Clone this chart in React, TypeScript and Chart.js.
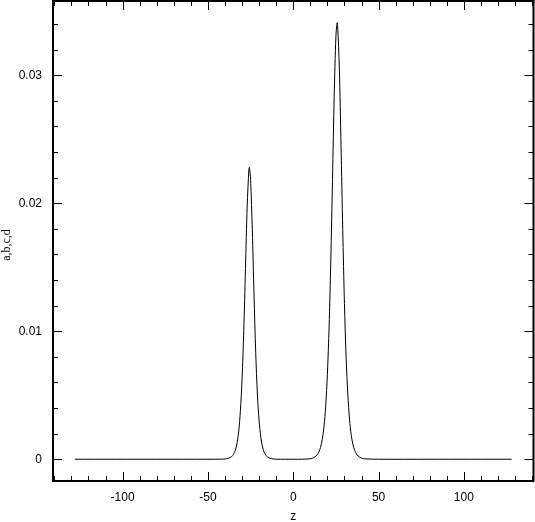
import React, { useEffect, useRef } from "react";
import { Chart, registerables } from "chart.js";

Chart.register(...registerables);

const zValues = [
  -128, -80, -50, -42, -40, -38, -36, -35, -34, -33, -32, -31, -30, -29, -28, -27, -26, -25.7,
  -25, -24, -23, -22, -21, -20, -19, -18, -17, -16, -15, -13, -10, -5, 0, 5, 10, 12, 14, 15,
  16, 17, 18, 19, 20, 21, 22, 23, 24, 25, 25.7, 26, 27, 28, 29, 30, 31, 32, 33, 34, 35, 36,
  37, 38, 40, 42, 50, 80, 128,
];
const abcdValues = [
  0, 0, 0, 0.000005, 0.00002, 0.00007, 0.000213, 0.000384, 0.000682, 0.00121, 0.00213,
  0.00374, 0.00625, 0.01004, 0.0149, 0.01977, 0.02262, 0.0228, 0.02186, 0.01793, 0.01285,
  0.00835, 0.00503, 0.00299, 0.00171, 0.00096, 0.00054, 0.0003, 0.00017, 0.00005, 0.000005, 0,
  0, 0, 0.00004, 0.00012, 0.00034, 0.00056, 0.00093, 0.00154, 0.00253, 0.00412, 0.00662,
  0.01032, 0.01546, 0.02186, 0.02836, 0.03303, 0.0341, 0.0339, 0.03058, 0.02453, 0.01793,
  0.01217, 0.00788, 0.00504, 0.00308, 0.00188, 0.00114, 0.00069, 0.00042, 0.00025, 0.00009,
  0.00003, 0.000001, 0, 0,
];
const xTickValues = [-100, -50, 0, 50, 100];
const xTickLabels = ["-100", "-50", "0", "50", "100"];
const yTickValues = [0, 0.01, 0.02, 0.03];
const yTickLabels = ["0", "0.01", "0.02", "0.03"];
const xTitle = "z";
const yTitle = "a,b,c,d";

const X_MIN = -140.8;
const X_MAX = 140.8;
const Y_MIN = -0.0017;
const Y_MAX = 0.0358;

const framePlugin = {
  id: "framePlugin",
  afterDraw(chart: any) {
    const { ctx, chartArea } = chart;
    const { left, right, top, bottom } = chartArea;
    const xs = chart.scales.x;
    const ys = chart.scales.y;
    ctx.save();
    ctx.strokeStyle = "#000";
    ctx.lineWidth = 1;
    for (let v = -140; v <= 140; v += 10) {
      const px = Math.round(xs.getPixelForValue(v)) + 0.5;
      const major = v % 50 === 0;
      const len = major ? 9 : 5;
      ctx.beginPath();
      ctx.moveTo(px, bottom);
      ctx.lineTo(px, bottom - len);
      ctx.moveTo(px, top);
      ctx.lineTo(px, top + len);
      ctx.stroke();
    }
    for (let i = -1; i <= 18; i++) {
      const v = i * 0.002;
      const py = Math.round(ys.getPixelForValue(v)) + 0.5;
      if (py < top || py > bottom) continue;
      const major = i % 5 === 0;
      const len = major ? 9 : 5;
      ctx.beginPath();
      ctx.moveTo(left, py);
      ctx.lineTo(left + len, py);
      ctx.moveTo(right, py);
      ctx.lineTo(right - len, py);
      ctx.stroke();
    }
    ctx.lineWidth = 2;
    ctx.strokeRect(left, top, right - left, bottom - top);
    ctx.fillStyle = "#000";
    ctx.font = "12px 'Liberation Sans'";
    ctx.textAlign = "center";
    ctx.textBaseline = "middle";
    ctx.fillText(xTitle, (left + right) / 2, 517);
    ctx.translate(7, 245);
    ctx.rotate(-Math.PI / 2);
    ctx.font = "12px 'Liberation Serif'";
    ctx.fillText(yTitle, 0, 0);
    ctx.restore();
  },
};

export default function App() {
  const ref = useRef<HTMLCanvasElement | null>(null);
  useEffect(() => {
    if (!ref.current) return;
    const points = zValues.map((z, i) => ({ x: z, y: abcdValues[i] }));
    const chart = new Chart(ref.current, {
      type: "line",
      data: {
        datasets: [
          {
            data: points,
            borderColor: "#000",
            borderWidth: 1,
            pointRadius: 0,
            tension: 0.3,
            fill: false,
          },
        ],
      },
      options: {
        animation: false,
        responsive: false,
        devicePixelRatio: 1,
        layout: { padding: { top: 1, right: 1.5, left: 0, bottom: 0 } },
        plugins: { legend: { display: false }, tooltip: { enabled: false } },
        scales: {
          x: {
            type: "linear",
            min: X_MIN,
            max: X_MAX,
            grid: { display: false, drawTicks: false },
            border: { display: false },
            afterFit: (s: any) => {
              s.height = 41;
              s.paddingLeft = 0;
              s.paddingRight = 0;
              s.paddingTop = 0;
              s.paddingBottom = 0;
            },
            afterBuildTicks: (s: any) => {
              s.ticks = xTickValues.map((v) => ({ value: v }));
            },
            ticks: {
              padding: 9,
              color: "#000",
              font: { family: "'Liberation Sans'", size: 12 },
              maxRotation: 0,
              callback: (v: any) => {
                const i = xTickValues.indexOf(Number(v));
                return i >= 0 ? xTickLabels[i] : "";
              },
            },
          },
          y: {
            type: "linear",
            min: Y_MIN,
            max: Y_MAX,
            grid: { display: false, drawTicks: false },
            border: { display: false },
            afterFit: (s: any) => {
              s.width = 53;
              s.paddingLeft = 0;
              s.paddingRight = 0;
              s.paddingTop = 0;
              s.paddingBottom = 0;
            },
            afterBuildTicks: (s: any) => {
              s.ticks = yTickValues.map((v) => ({ value: v }));
            },
            ticks: {
              padding: 11,
              color: "#000",
              font: { family: "'Liberation Sans'", size: 12 },
              callback: (v: any) => {
                const i = yTickValues.indexOf(Number(v));
                return i >= 0 ? yTickLabels[i] : "";
              },
            },
          },
        },
      },
      plugins: [framePlugin],
    });
    return () => chart.destroy();
  }, []);
  return (
    <div style={{ position: "absolute", left: 0, top: 0, width: 535, height: 522, background: "#fff" }}>
      <canvas ref={ref} width={535} height={522} style={{ width: 535, height: 522 }} />
    </div>
  );
}
